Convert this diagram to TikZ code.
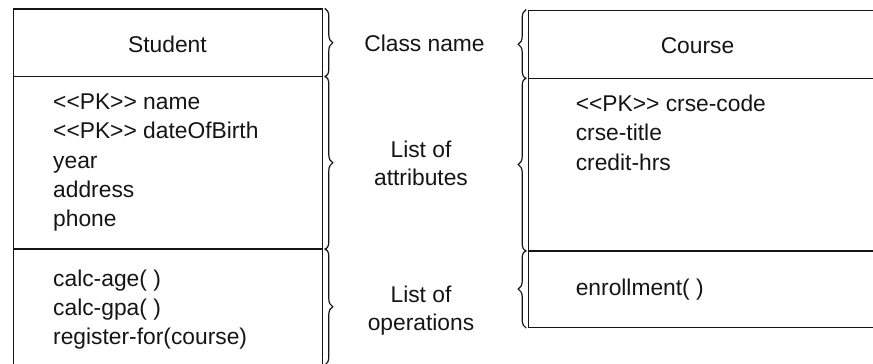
\documentclass[tikz,border=0pt]{standalone}
\usepackage{fontspec}
\setmainfont{Liberation Sans}[Ligatures=TeXOff]
\usetikzlibrary{decorations.pathreplacing,calc}
\definecolor{ink}{HTML}{151515}
\begin{document}
\begin{tikzpicture}[x=1pt,y=-1pt,
  every node/.style={font=\fontsize{22.8}{29.3}\selectfont, text=ink},
  comp/.style={draw=ink, line width=1.6pt, rectangle, inner sep=0pt, anchor=north west},
  txt/.style={inner sep=0pt, align=left, anchor=north west},
  lbl/.style={inner sep=0pt, align=center, anchor=north, font=\fontsize{22.8}{28.4}\selectfont},
  brc/.style={draw=ink, decorate, decoration={brace, amplitude=8pt}, line width=1.2pt}]
\useasboundingbox (0,0) rectangle (873,364);
\clip (0,0) rectangle (873,364);
% Student class
\node[comp, minimum width=309pt, minimum height=67.4pt] (sname) at (12.7,8.3) {};
\node[comp, minimum width=309pt, minimum height=172.6pt] (sattr) at (12.7,75.7) {};
\node[comp, minimum width=309pt, minimum height=115.2pt] (sops) at (12.7,248.3) {};
\node[inner sep=0pt, anchor=base] (stitle) at (167.4,52.7) {Student};
\node[txt] (stext) at (53,93.7) {<<PK>> name\\<<PK>> dateOfBirth\\year\\address\\phone};
\node[txt] (sotext) at (53,269.4) {calc-age( )\\calc-gpa( )\\register-for(course)};
% Course class
\node[comp, minimum width=360pt, minimum height=68pt] (cname) at (527.7,9.5) {};
\node[comp, minimum width=360pt, minimum height=172.5pt] (cattr) at (527.7,77.5) {};
\node[comp, minimum width=360pt, minimum height=76.5pt] (cops) at (527.7,250) {};
\node[inner sep=0pt, anchor=base] (ctitle) at (697.5,53.3) {Course};
\node[txt] (ctext) at (575.6,94.7) {<<PK>> crse-code\\crse-title\\credit-hrs};
\node[txt] (cotext) at (575.6,278.4) {enrollment( )};
% Labels
\node[inner sep=0pt, anchor=base] (lname) at (424.5,51.7) {Class name};
\node[lbl] (lattr) at (421,140.4) {List of\\attributes};
\node[lbl] (lops) at (421,285.4) {List of\\operations};
% Braces
\draw[brc] ($(sname.north east)+(1.5,0)$) -- ($(sname.south east)+(1.5,0)$);
\draw[brc] ($(sattr.north east)+(1.5,0)$) -- ($(sattr.south east)+(1.5,0)$);
\draw[brc] ($(sops.north east)+(1.5,0)$) -- ($(sops.south east)+(1.5,0)$);
\draw[brc] ($(cname.south west)+(-1.5,0)$) -- ($(cname.north west)+(-1.5,0)$);
\draw[brc] ($(cattr.south west)+(-1.5,0)$) -- ($(cattr.north west)+(-1.5,0)$);
\draw[brc] ($(cops.south west)+(-1.5,0)$) -- ($(cops.north west)+(-1.5,0)$);
\end{tikzpicture}
\end{document}
